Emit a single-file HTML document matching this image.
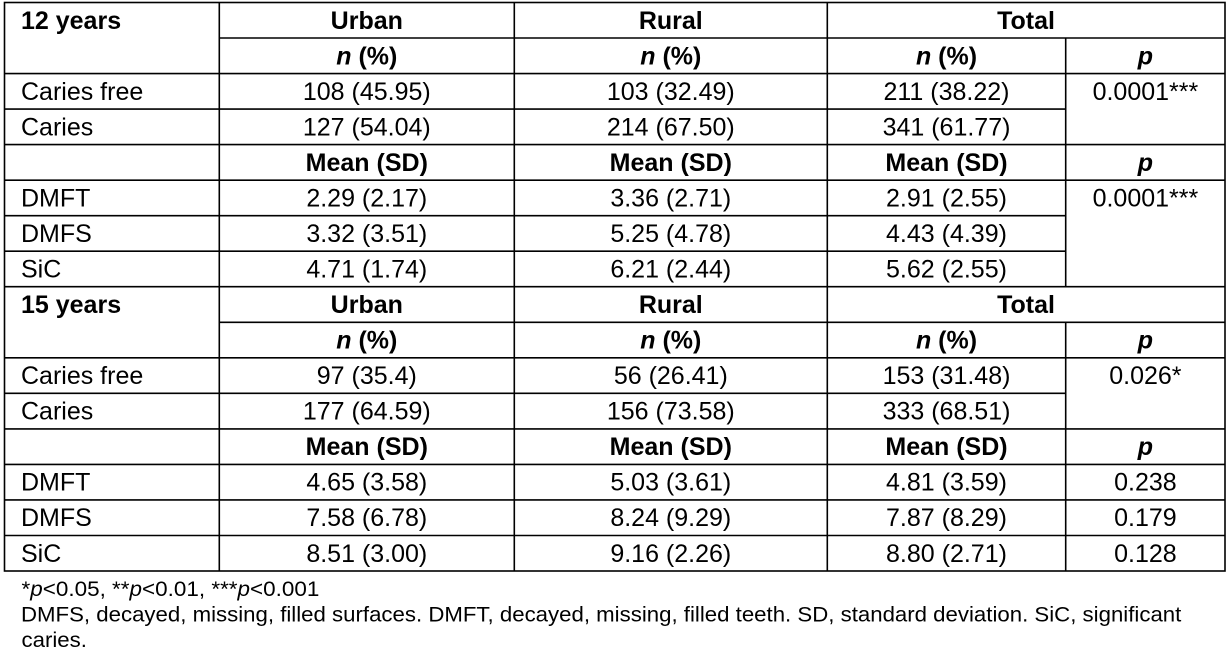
<!DOCTYPE html>
<html>
<head>
<meta charset="utf-8">
<style>
  html, body { margin:0; padding:0; background:#fff; }
  body { width:1228px; height:652px; overflow:hidden; }
  svg { display:block; }
  text { font-family: "Liberation Sans", Arial, sans-serif; fill:#000; }
  .h { font-size:25px; font-weight:bold; }
  .c { font-size:25px; }
  .m { text-anchor:middle; }
  .f { font-size:21px; }
</style>
</head>
<body>
<svg width="1228" height="652" viewBox="0 0 1228 652" xmlns="http://www.w3.org/2000/svg">
  <g stroke="#000" stroke-width="1.6" fill="none">
    <rect x="4.5" y="2.5" width="1220.5" height="568.5"/>
    <line x1="219.3" y1="2.5" x2="219.3" y2="571"/>
    <line x1="514.3" y1="2.5" x2="514.3" y2="571"/>
    <line x1="827.3" y1="2.5" x2="827.3" y2="571"/>
    <line x1="1065.7" y1="38" x2="1065.7" y2="286.7"/>
    <line x1="1065.7" y1="322.3" x2="1065.7" y2="571"/>
    <line x1="219.3" y1="38" x2="1225" y2="38"/>
    <line x1="4.5" y1="73.6" x2="1225" y2="73.6"/>
    <line x1="4.5" y1="109.1" x2="1065.7" y2="109.1"/>
    <line x1="4.5" y1="144.6" x2="1225" y2="144.6"/>
    <line x1="4.5" y1="180.2" x2="1225" y2="180.2"/>
    <line x1="4.5" y1="215.7" x2="1065.7" y2="215.7"/>
    <line x1="4.5" y1="251.2" x2="1065.7" y2="251.2"/>
    <line x1="4.5" y1="286.7" x2="1225" y2="286.7"/>
    <line x1="219.3" y1="322.3" x2="1225" y2="322.3"/>
    <line x1="4.5" y1="357.8" x2="1225" y2="357.8"/>
    <line x1="4.5" y1="393.3" x2="1065.7" y2="393.3"/>
    <line x1="4.5" y1="428.9" x2="1225" y2="428.9"/>
    <line x1="4.5" y1="464.4" x2="1225" y2="464.4"/>
    <line x1="4.5" y1="499.9" x2="1225" y2="499.9"/>
    <line x1="4.5" y1="535.5" x2="1225" y2="535.5"/>
  </g>

  <text class="h" x="21" y="28.8">12 years</text>
  <text class="h m" x="366.8" y="28.8">Urban</text>
  <text class="h m" x="670.8" y="28.8">Rural</text>
  <text class="h m" x="1026" y="28.8">Total</text>

  <text class="h m" x="366.8" y="64.3"><tspan font-style="italic">n</tspan> (%)</text>
  <text class="h m" x="670.8" y="64.3"><tspan font-style="italic">n</tspan> (%)</text>
  <text class="h m" x="946.5" y="64.3"><tspan font-style="italic">n</tspan> (%)</text>
  <text class="h m" x="1145.4" y="64.3" font-style="italic">p</text>

  <text class="c" x="21" y="99.9">Caries free</text>
  <text class="c m" x="366.8" y="99.9">108 (45.95)</text>
  <text class="c m" x="670.8" y="99.9">103 (32.49)</text>
  <text class="c m" x="946.5" y="99.9">211 (38.22)</text>
  <text class="c m" x="1145.4" y="99.9">0.0001***</text>

  <text class="c" x="21" y="135.4">Caries</text>
  <text class="c m" x="366.8" y="135.4">127 (54.04)</text>
  <text class="c m" x="670.8" y="135.4">214 (67.50)</text>
  <text class="c m" x="946.5" y="135.4">341 (61.77)</text>

  <text class="h m" x="366.8" y="170.9">Mean (SD)</text>
  <text class="h m" x="670.8" y="170.9">Mean (SD)</text>
  <text class="h m" x="946.5" y="170.9">Mean (SD)</text>
  <text class="h m" x="1145.4" y="170.9" font-style="italic">p</text>

  <text class="c" x="21" y="206.5">DMFT</text>
  <text class="c m" x="366.8" y="206.5">2.29 (2.17)</text>
  <text class="c m" x="670.8" y="206.5">3.36 (2.71)</text>
  <text class="c m" x="946.5" y="206.5">2.91 (2.55)</text>
  <text class="c m" x="1145.4" y="206.5">0.0001***</text>

  <text class="c" x="21" y="242">DMFS</text>
  <text class="c m" x="366.8" y="242">3.32 (3.51)</text>
  <text class="c m" x="670.8" y="242">5.25 (4.78)</text>
  <text class="c m" x="946.5" y="242">4.43 (4.39)</text>

  <text class="c" x="21" y="277.5">SiC</text>
  <text class="c m" x="366.8" y="277.5">4.71 (1.74)</text>
  <text class="c m" x="670.8" y="277.5">6.21 (2.44)</text>
  <text class="c m" x="946.5" y="277.5">5.62 (2.55)</text>

  <text class="h" x="21" y="313">15 years</text>
  <text class="h m" x="366.8" y="313">Urban</text>
  <text class="h m" x="670.8" y="313">Rural</text>
  <text class="h m" x="1026" y="313">Total</text>

  <text class="h m" x="366.8" y="348.6"><tspan font-style="italic">n</tspan> (%)</text>
  <text class="h m" x="670.8" y="348.6"><tspan font-style="italic">n</tspan> (%)</text>
  <text class="h m" x="946.5" y="348.6"><tspan font-style="italic">n</tspan> (%)</text>
  <text class="h m" x="1145.4" y="348.6" font-style="italic">p</text>

  <text class="c" x="21" y="384.1">Caries free</text>
  <text class="c m" x="366.8" y="384.1">97 (35.4)</text>
  <text class="c m" x="670.8" y="384.1">56 (26.41)</text>
  <text class="c m" x="946.5" y="384.1">153 (31.48)</text>
  <text class="c m" x="1145.4" y="384.1">0.026*</text>

  <text class="c" x="21" y="419.6">Caries</text>
  <text class="c m" x="366.8" y="419.6">177 (64.59)</text>
  <text class="c m" x="670.8" y="419.6">156 (73.58)</text>
  <text class="c m" x="946.5" y="419.6">333 (68.51)</text>

  <text class="h m" x="366.8" y="455.2">Mean (SD)</text>
  <text class="h m" x="670.8" y="455.2">Mean (SD)</text>
  <text class="h m" x="946.5" y="455.2">Mean (SD)</text>
  <text class="h m" x="1145.4" y="455.2" font-style="italic">p</text>

  <text class="c" x="21" y="490.7">DMFT</text>
  <text class="c m" x="366.8" y="490.7">4.65 (3.58)</text>
  <text class="c m" x="670.8" y="490.7">5.03 (3.61)</text>
  <text class="c m" x="946.5" y="490.7">4.81 (3.59)</text>
  <text class="c m" x="1145.4" y="490.7">0.238</text>

  <text class="c" x="21" y="526.2">DMFS</text>
  <text class="c m" x="366.8" y="526.2">7.58 (6.78)</text>
  <text class="c m" x="670.8" y="526.2">8.24 (9.29)</text>
  <text class="c m" x="946.5" y="526.2">7.87 (8.29)</text>
  <text class="c m" x="1145.4" y="526.2">0.179</text>

  <text class="c" x="21" y="561.8">SiC</text>
  <text class="c m" x="366.8" y="561.8">8.51 (3.00)</text>
  <text class="c m" x="670.8" y="561.8">9.16 (2.26)</text>
  <text class="c m" x="946.5" y="561.8">8.80 (2.71)</text>
  <text class="c m" x="1145.4" y="561.8">0.128</text>

  <g transform="translate(21.5,596) scale(1.07,1)">
    <text class="f" x="0" y="0">*<tspan font-style="italic">p</tspan>&lt;0.05, **<tspan font-style="italic">p</tspan>&lt;0.01, ***<tspan font-style="italic">p</tspan>&lt;0.001</text>
  </g>
  <g transform="translate(21,621.5) scale(1.058,1)">
    <text class="f" x="0" y="0">DMFS, decayed, missing, filled surfaces. DMFT, decayed, missing, filled teeth. SD, standard deviation. SiC, significant</text>
  </g>
  <g transform="translate(21.5,647) scale(1.058,1)">
    <text class="f" x="0" y="0">caries.</text>
  </g>
</svg>
</body>
</html>
